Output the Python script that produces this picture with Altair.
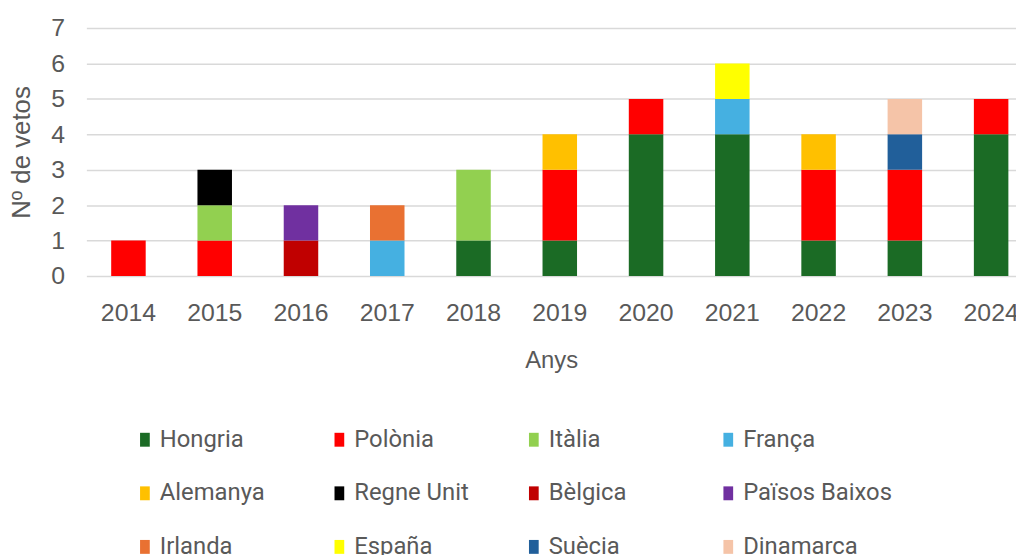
import altair as alt
import pandas as pd

years = ["2014", "2015", "2016", "2017", "2018", "2019", "2020", "2021", "2022", "2023", "2024"]
countries = ["Hongria", "Polònia", "Itàlia", "França", "Alemanya", "Regne Unit",
             "Bèlgica", "Països Baixos", "Irlanda", "España", "Suècia", "Dinamarca"]
colors = ["#1b6b25", "#ff0000", "#92d050", "#45b0e1", "#ffc000", "#000000",
          "#c00000", "#7030a0", "#e97132", "#ffff00", "#215f9a", "#f5c4a8"]

hongria = [0, 0, 0, 0, 1, 1, 4, 4, 1, 1, 4]
polonia = [1, 1, 0, 0, 0, 2, 1, 0, 2, 2, 1]
italia = [0, 1, 0, 0, 2, 0, 0, 0, 0, 0, 0]
franca = [0, 0, 0, 1, 0, 0, 0, 1, 0, 0, 0]
alemanya = [0, 0, 0, 0, 0, 1, 0, 0, 1, 0, 0]
regne_unit = [0, 1, 0, 0, 0, 0, 0, 0, 0, 0, 0]
belgica = [0, 0, 1, 0, 0, 0, 0, 0, 0, 0, 0]
paisos_baixos = [0, 0, 1, 0, 0, 0, 0, 0, 0, 0, 0]
irlanda = [0, 0, 0, 1, 0, 0, 0, 0, 0, 0, 0]
espana = [0, 0, 0, 0, 0, 0, 0, 1, 0, 0, 0]
suecia = [0, 0, 0, 0, 0, 0, 0, 0, 0, 1, 0]
dinamarca = [0, 0, 0, 0, 0, 0, 0, 0, 0, 1, 0]

series = [hongria, polonia, italia, franca, alemanya, regne_unit,
          belgica, paisos_baixos, irlanda, espana, suecia, dinamarca]

rows = []
for ci, (c, vals) in enumerate(zip(countries, series)):
    for y, v in zip(years, vals):
        if v > 0:
            rows.append({"year": y, "country": c, "value": v, "idx": ci})
df = pd.DataFrame(rows)

axis_font = "Liberation Sans"
grey = "#595959"

chart = alt.Chart(df).mark_bar().encode(
    x=alt.X("year:N", sort=years,
            scale=alt.Scale(domain=years, paddingInner=0.6, paddingOuter=0.188, align=0.765),
            axis=alt.Axis(title="Anys", labelAngle=0, ticks=False, domain=False, grid=False,
                          labelFont=axis_font, labelFontSize=25, labelColor=grey, labelPadding=25,
                          titleFont=axis_font, titleFontSize=24, titleColor=grey,
                          titleFontWeight="normal", titlePadding=23)),
    y=alt.Y("value:Q", stack="zero",
            scale=alt.Scale(domain=[0, 7], nice=False),
            axis=alt.Axis(title="Nº de vetos", values=[0, 1, 2, 3, 4, 5, 6, 7], ticks=False,
                          domain=False, grid=True, gridColor="#d9d9d9", gridWidth=1.5,
                          labelFont=axis_font, labelFontSize=25, labelColor=grey, labelPadding=22,
                          titleFont=axis_font, titleFontSize=26, titleColor=grey,
                          titleFontWeight="normal", titlePadding=16)),
    color=alt.Color("country:N",
                    scale=alt.Scale(domain=countries, range=colors),
                    legend=alt.Legend(title=None, orient="none", legendX=47, legendY=403,
                                      direction="horizontal", columns=4, gridAlign="all",
                                      columnPadding=18, rowPadding=30, padding=0,
                                      symbolType="M-0.7,-1H0.7V1H-0.7Z", symbolSize=196,
                                      symbolStrokeWidth=0, labelFont="Roboto", labelFontSize=24,
                                      labelColor=grey, labelOffset=3, labelLimit=300)),
    order=alt.Order("idx:Q"),
).properties(
    width=937, height=250,
    autosize=alt.AutoSizeParams(type="none"),
    padding={"left": 79, "top": 18, "right": 0, "bottom": 279},
).configure_view(stroke=None)

chart.save("out.html", embed_options={"renderer": "svg", "actions": False})
